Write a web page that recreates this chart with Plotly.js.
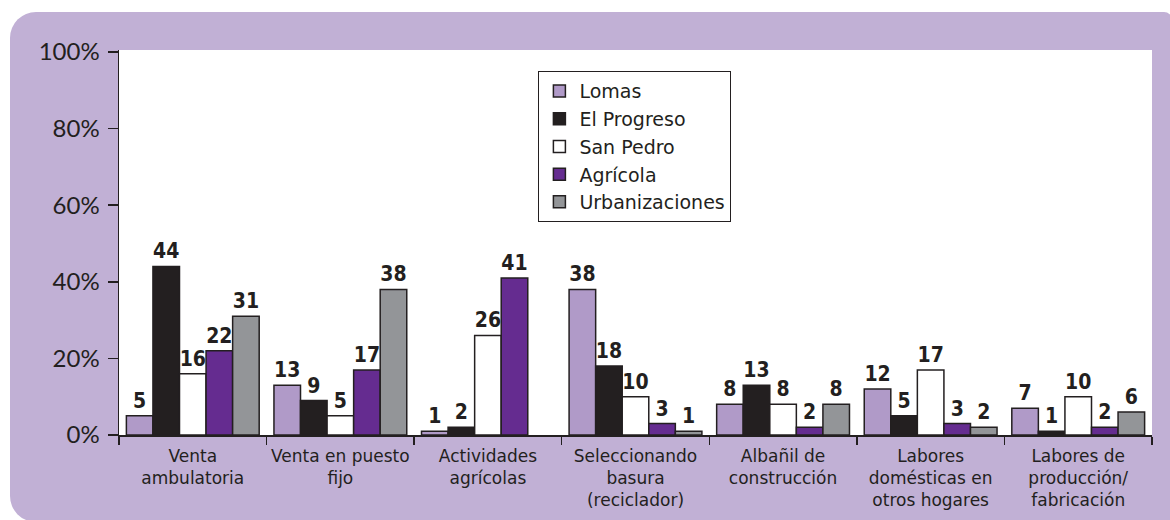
<!DOCTYPE html>
<html>
<head>
<meta charset="utf-8">
<script src="https://cdn.plot.ly/plotly-3.0.1.min.js"></script>
<style>
  html, body { margin: 0; padding: 0; background: #fff; }
  #frame {
    position: absolute; left: 10px; top: 12px; width: 1162px; height: 510px;
    background: #c1b0d5; border-radius: 26px 8px 0 26px;
  }
  #chart { position: absolute; left: 0; top: 0; width: 1170px; height: 520px; }
</style>
</head>
<body>
<div id="frame"></div>
<div id="chart"></div>
<script>
const categories = [
  'Venta<br>ambulatoria',
  'Venta en puesto<br>fijo',
  'Actividades<br>agrícolas',
  'Seleccionando<br>basura<br>(reciclador)',
  'Albañil de<br>construcción',
  'Labores<br>domésticas en<br>otros hogares',
  'Labores de<br>producción/<br>fabricación'
];

const lomas = [5, 13, 1, 38, 8, 12, 7];
const elProgreso = [44, 9, 2, 18, 13, 5, 1];
const sanPedro = [16, 5, 26, 10, 8, 17, 10];
const agricola = [22, 17, 41, 3, 2, 3, 2];
const urbanizaciones = [31, 38, null, 1, 8, 2, 6];

const yTicks = [0, 20, 40, 60, 80, 100];
const yTickText = ['0%', '20%', '40%', '60%', '80%', '100%'];

const ink = '#231f20';

function series(name, values, color) {
  return {
    type: 'bar',
    name: name,
    x: categories,
    y: values,
    text: values.map((v) => (v == null ? '' : String(v))),
    textposition: 'outside',
    constraintext: 'none',
    cliponaxis: false,
    textfont: { family: 'DejaVu Sans Condensed', size: 21, color: ink, weight: 'bold' },
    marker: { color: color, line: { color: ink, width: 1.5 } },
    hoverinfo: 'skip'
  };
}

const data = [
  series('Lomas', lomas, '#b09ac8'),
  series('El Progreso', elProgreso, '#231f20'),
  series('San Pedro', sanPedro, '#ffffff'),
  series('Agrícola', agricola, '#652c90'),
  series('Urbanizaciones', urbanizaciones, '#939598')
];

const layout = {
  width: 1170,
  height: 520,
  margin: { l: 119, r: 18, t: 50, b: 85 },
  paper_bgcolor: 'rgba(0,0,0,0)',
  plot_bgcolor: '#ffffff',
  barmode: 'group',
  bargap: 0.1,
  bargroupgap: 0,
  showlegend: true,
  legend: {
    x: 0.406, y: 0.945, xanchor: 'left', yanchor: 'top',
    bgcolor: '#ffffff', bordercolor: ink, borderwidth: 1,
    font: { family: 'DejaVu Sans', size: 19, color: ink },
    itemwidth: 30
  },
  xaxis: {
    type: 'category',
    showline: true, linecolor: ink, linewidth: 1.5,
    ticks: 'outside', tickson: 'boundaries', ticklen: 8, tickcolor: ink, tickwidth: 1.5,
    ticklabelstandoff: 5, tickangle: 0,
    tickfont: { family: 'DejaVu Sans', size: 17, color: ink },
    showgrid: false, zeroline: false, fixedrange: true
  },
  yaxis: {
    range: [0, 100.5],
    tickvals: yTicks, ticktext: yTickText,
    showline: true, linecolor: ink, linewidth: 1.5,
    ticks: 'outside', ticklen: 10, tickcolor: ink, tickwidth: 1.5,
    ticklabelstandoff: 3,
    tickfont: { family: 'Lato', size: 24, color: ink, weight: 400 },
    showgrid: false, zeroline: false, fixedrange: true
  }
};

Plotly.newPlot('chart', data, layout, { displayModeBar: false, staticPlot: true });
</script>
</body>
</html>
